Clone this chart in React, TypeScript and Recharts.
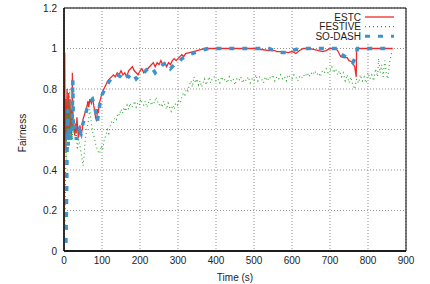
import React from "react";
import { LineChart, Line, XAxis, YAxis, CartesianGrid, ReferenceArea, Legend } from "recharts";

const xTicks = [0, 100, 200, 300, 400, 500, 600, 700, 800, 900];
const yTicks = [0, 0.2, 0.4, 0.6, 0.8, 1, 1.2];

const estcTime = [
  0, 1, 2, 3, 4, 5, 6, 7, 8, 9,
  10, 11, 12, 13, 14, 15, 16, 17, 18, 19,
  20, 21, 22, 23, 24, 26, 28, 30, 32, 34,
  36, 38, 40, 42, 45, 48, 50, 55, 60, 63,
  65, 68, 72, 75, 78, 80, 83, 86, 88, 90,
  93, 96, 100, 105, 110, 115, 120, 125, 130, 135,
  140, 145, 150, 155, 160, 165, 170, 175, 180, 185,
  190, 195, 200, 205, 210, 215, 220, 225, 230, 235,
  240, 245, 250, 255, 260, 265, 270, 275, 280, 285,
  290, 295, 300, 305, 310, 315, 320, 330, 340, 350,
  360, 370, 380, 400, 450, 500, 520, 540, 555, 560,
  575, 590, 600, 610, 620, 630, 645, 660, 680, 690,
  700, 715, 720, 728, 735, 745, 750, 758, 765, 769,
  770, 800, 865,
];
const estcValue = [
  0.13, 0.5, 0.98, 0.55, 0.75, 0.5, 0.7, 0.6, 0.8, 0.55,
  0.72, 0.62, 0.78, 0.55, 0.68, 0.6, 0.75, 0.58, 0.65, 0.55,
  0.7, 0.6, 0.88, 0.65, 0.6, 0.62, 0.57, 0.63, 0.58, 0.66,
  0.6, 0.56, 0.58, 0.62, 0.58, 0.6, 0.65, 0.68, 0.71, 0.74,
  0.71, 0.75, 0.73, 0.76, 0.72, 0.7, 0.66, 0.64, 0.7, 0.68,
  0.73, 0.75, 0.78, 0.8, 0.82, 0.84, 0.85, 0.86, 0.87, 0.86,
  0.88, 0.87, 0.89, 0.87, 0.88, 0.86, 0.89, 0.9, 0.91, 0.89,
  0.88, 0.87, 0.89, 0.9, 0.88, 0.89, 0.9, 0.91, 0.92, 0.93,
  0.91, 0.93, 0.92, 0.94, 0.92, 0.93, 0.91, 0.93, 0.92, 0.94,
  0.95, 0.94, 0.95, 0.96, 0.97, 0.96, 0.975, 0.98, 0.985, 0.99,
  0.995, 1, 1, 1, 1, 1, 0.995, 0.99, 0.99, 0.985,
  0.985, 0.98, 0.985, 0.975, 0.99, 1, 1, 0.995, 0.985, 0.99,
  1, 1, 0.99, 0.96, 0.955, 0.955, 0.94, 0.935, 0.91, 0.86,
  1, 1, 1,
];

const festiveTime = [
  1, 2, 3, 4, 5, 6, 7, 8, 9, 10,
  11, 12, 13, 14, 15, 16, 17, 18, 20, 22,
  24, 26, 28, 30, 32, 35, 38, 42, 45, 48,
  50, 53, 56, 60, 64, 68, 70, 73, 76, 80,
  84, 88, 92, 95, 98, 102, 106, 110, 114, 118,
  122, 126, 130, 134, 138, 142, 146, 150, 154, 158,
  162, 166, 170, 174, 178, 182, 186, 190, 194, 198,
  202, 206, 210, 214, 218, 222, 226, 230, 234, 238,
  242, 246, 250, 254, 258, 262, 266, 270, 274, 278,
  282, 286, 290, 294, 298, 302, 306, 310, 314, 318,
  322, 326, 330, 334, 338, 342, 346, 350, 354, 358,
  362, 366, 370, 374, 378, 382, 386, 390, 395, 400,
  405, 410, 415, 420, 425, 430, 435, 440, 445, 450,
  455, 460, 465, 470, 475, 480, 485, 490, 495, 500,
  505, 510, 515, 520, 525, 530, 535, 540, 545, 550,
  555, 560, 565, 570, 575, 580, 585, 590, 595, 600,
  605, 610, 615, 620, 625, 630, 635, 640, 645, 650,
  655, 660, 665, 670, 675, 680, 685, 690, 695, 700,
  705, 710, 715, 720, 725, 730, 735, 740, 745, 750,
  755, 760, 765, 770, 775, 780, 785, 790, 795, 800,
  805, 810, 815, 820, 825, 828, 832, 836, 840, 844,
  848, 852, 856, 860, 864,
];
const festiveValue = [
  1.0, 0.1, 0.2, 0.35, 0.5, 0.45, 0.7, 0.55, 0.8, 0.6,
  0.75, 0.5, 0.7, 0.62, 0.8, 0.58, 0.72, 0.6, 0.65, 0.55,
  0.7, 0.58, 0.6, 0.55, 0.62, 0.5, 0.56, 0.52, 0.48, 0.45,
  0.42, 0.47, 0.55, 0.6, 0.64, 0.7, 0.66, 0.62, 0.58, 0.56,
  0.52, 0.5, 0.48, 0.49, 0.52, 0.5, 0.55, 0.57, 0.6, 0.58,
  0.62, 0.64, 0.63, 0.66, 0.65, 0.68, 0.67, 0.7, 0.68, 0.71,
  0.69, 0.72, 0.7, 0.73, 0.71, 0.72, 0.74, 0.71, 0.73, 0.72,
  0.75, 0.73, 0.72, 0.74, 0.71, 0.73, 0.75, 0.72, 0.74, 0.73,
  0.76, 0.74, 0.72, 0.73, 0.71, 0.74, 0.72, 0.7, 0.73, 0.71,
  0.69, 0.72, 0.7, 0.73, 0.72, 0.74, 0.73, 0.76, 0.78, 0.77,
  0.8, 0.79, 0.82, 0.84, 0.81, 0.86, 0.83, 0.85, 0.82, 0.84,
  0.81, 0.83, 0.85, 0.82, 0.84, 0.86, 0.83, 0.85, 0.86, 0.84,
  0.85, 0.83, 0.86, 0.84, 0.85, 0.83, 0.86, 0.84, 0.85, 0.82,
  0.85, 0.84, 0.86, 0.83, 0.85, 0.84, 0.86, 0.83, 0.85, 0.84,
  0.87, 0.84, 0.86, 0.85, 0.83, 0.86, 0.84, 0.86, 0.85, 0.87,
  0.84, 0.86, 0.85, 0.87, 0.85, 0.86, 0.84, 0.87, 0.86, 0.85,
  0.87, 0.86, 0.84, 0.86, 0.85, 0.87, 0.86, 0.88, 0.86, 0.88,
  0.87, 0.89, 0.87, 0.88, 0.86, 0.89, 0.88, 0.9, 0.88, 0.89,
  0.91, 0.88, 0.9, 0.87, 0.89, 0.86, 0.88, 0.84, 0.87, 0.83,
  0.86, 0.82, 0.8, 0.85, 0.83, 0.87, 0.84, 0.86, 0.83, 0.88,
  0.85, 0.87, 0.84, 0.9, 0.86, 0.95, 0.88, 0.92, 0.86, 0.94,
  0.88, 0.85, 0.92, 0.96, 0.99,
];

const soDashTime = [
  5, 6, 7, 8, 9, 10, 11, 12, 14, 16,
  18, 20, 22, 23, 25, 28, 30, 33, 36, 40,
  45, 50, 55, 60, 65, 70, 75, 78, 82, 86,
  88, 92, 96, 100, 105, 110, 120, 130, 140, 150,
  155, 160, 170, 180, 190, 200, 210, 220, 230, 240,
  250, 260, 270, 280, 290, 300, 310, 320, 330, 345,
  360, 380, 450, 540, 560, 575, 590, 600, 620, 720,
  730, 740, 750, 760, 768, 772, 865,
];
const soDashValue = [
  0.04, 0.13, 0.3, 0.5, 0.55, 0.7, 0.52, 0.62, 0.58, 0.6,
  0.55, 0.56, 0.68, 0.845, 0.6, 0.62, 0.58, 0.55, 0.58, 0.6,
  0.58, 0.63, 0.66, 0.7, 0.72, 0.74, 0.75, 0.73, 0.7, 0.66,
  0.64, 0.7, 0.74, 0.77, 0.79, 0.81, 0.84, 0.86, 0.87, 0.86,
  0.85, 0.87, 0.86, 0.88, 0.85, 0.87, 0.88, 0.9, 0.91, 0.88,
  0.9, 0.92, 0.93, 0.9, 0.92, 0.93, 0.95, 0.96, 0.97, 0.98,
  0.99, 1, 1, 1, 0.985, 0.98, 0.98, 0.99, 1, 1,
  0.97, 0.96, 0.95, 0.93, 0.96, 1, 1,
];

const series = [
  { name: "ESTC", color: "#f02a2a", width: 1.3, dash: undefined as string | undefined, times: estcTime, values: estcValue },
  { name: "FESTIVE", color: "#2aa52a", width: 1.1, dash: "1 3", times: festiveTime, values: festiveValue },
  { name: "SO-DASH", color: "#3d94c9", width: 3.5, dash: "5 8", times: soDashTime, values: soDashValue },
];

const toRows = (times: number[], values: number[]) =>
  times.map((t, i) => ({ t, v: values[i] }));

const FONT = "'Liberation Sans', Arial, Helvetica, sans-serif";

const LegendBox = () => (
  <svg width={93} height={31} style={{ display: "block", background: "#fff" }}>
    {series.map((s, i) => {
      const cy = 6 + i * 9.6;
      return (
        <g key={s.name}>
          <text x={56} y={cy} textAnchor="end" dominantBaseline="central" fontSize={10} fontFamily={FONT} fill="#222">
            {s.name}
          </text>
          <line x1={60} x2={89} y1={cy} y2={cy} stroke={s.color} strokeWidth={s.name === "SO-DASH" ? 3 : s.width} strokeDasharray={s.dash} />
        </g>
      );
    })}
  </svg>
);

const YLabel = () => (
  <text
    x={22}
    y={133}
    transform="rotate(-90, 22, 133)"
    textAnchor="middle"
    dominantBaseline="central"
    fontSize={10}
    fontFamily={FONT}
    fill="#222"
  >
    Fairness
  </text>
);

export default function App() {
  return (
    <div style={{ position: "absolute", left: 0, top: 0, width: 430, height: 284, background: "#fff" }}>
      <LineChart width={430} height={284} margin={{ top: 8, right: 24, bottom: 0, left: 0 }}>
        <CartesianGrid stroke="#777" strokeDasharray="1 2" strokeWidth={0.8} />
        <XAxis
          dataKey="t"
          type="number"
          domain={[0, 900]}
          ticks={xTicks}
          allowDuplicatedCategory={false}
          height={33}
          tickSize={5}
          tickMargin={1}
          tickLine={false}
          axisLine={{ stroke: "#000", strokeWidth: 1.5 }}
          tick={{ fontSize: 10, fontFamily: FONT, fill: "#222" }}
          label={{ value: "Time (s)", position: "insideBottom", offset: 3, fontSize: 10, fontFamily: FONT, fill: "#222" }}
        />
        <YAxis
          type="number"
          domain={[0, 1.2]}
          ticks={yTicks}
          width={64}
          tickSize={5}
          tickMargin={2}
          tickLine={false}
          axisLine={{ stroke: "#000", strokeWidth: 1.2 }}
          tick={{ fontSize: 10, fontFamily: FONT, fill: "#222" }}
          label={{ content: () => <YLabel /> }}
        />
        <ReferenceArea x1={0} x2={900} y1={0} y2={1.2} fill="none" stroke="#000" strokeWidth={1} ifOverflow="visible" />
        {series.map((s) => (
          <Line
            key={s.name}
            data={toRows(s.times, s.values)}
            dataKey="v"
            name={s.name}
            type="linear"
            stroke={s.color}
            strokeWidth={s.width}
            strokeDasharray={s.dash}
            dot={false}
            activeDot={false}
            isAnimationActive={false}
          />
        ))}
        <Legend
          layout="vertical"
          align="center"
          verticalAlign="middle"
          content={() => <LegendBox />}
          wrapperStyle={{ position: "absolute", top: 11, left: 305, width: 93, height: 31 }}
        />
      </LineChart>
    </div>
  );
}
